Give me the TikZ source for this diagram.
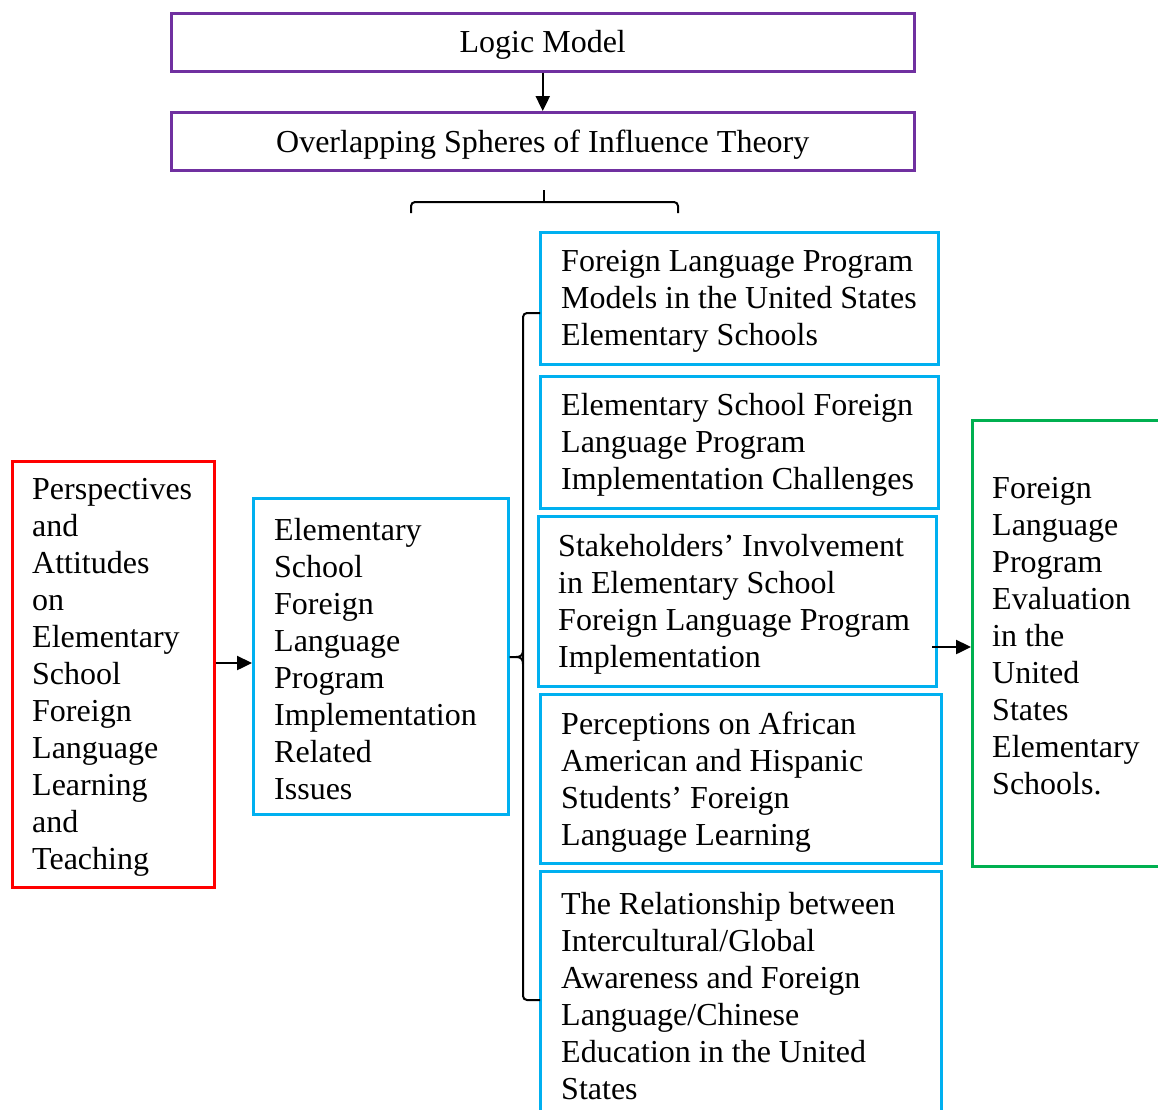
\documentclass[tikz,border=0pt]{standalone}
\usepackage{fontspec}
\setmainfont{Liberation Serif}
\usetikzlibrary{arrows.meta}
\definecolor{lmpurple}{HTML}{7030A0}
\definecolor{lmred}{HTML}{FF0000}
\definecolor{lmcyan}{HTML}{00B0F0}
\definecolor{lmgreen}{HTML}{00B050}
\begin{document}
\begin{tikzpicture}[x=1pt,y=-1pt,
  boxbase/.style={draw, line width=2.5pt, anchor=north west, inner sep=0pt},
  pbox/.style={boxbase, draw=lmpurple, font=\fontsize{32}{37}\selectfont, align=center},
  rbox/.style={boxbase, draw=lmred},
  cbox/.style={boxbase, draw=lmcyan},
  gbox/.style={boxbase, draw=lmgreen},
  txt/.style={anchor=west, inner sep=0pt, align=left, yshift=-3pt, font=\fontsize{32}{37}\selectfont},
  arr/.style={line width=2.4pt, -{Triangle[length=15pt,width=14pt]}},
  brace/.style={line width=2pt, rounded corners=4pt}]
\useasboundingbox (0,0) rectangle (1158,1109);

% top boxes
\node[pbox, minimum width=743pt, minimum height=58pt] (logic) at (170,12) {\raisebox{-3pt}[\height][\depth]{Logic Model}};
\node[pbox, minimum width=743pt, minimum height=58pt] (osi) at (170,111) {\raisebox{-3pt}[\height][\depth]{Overlapping Spheres of Influence Theory}};
\draw[arr] (logic.south) -- (osi.north);

% top brace
\coordinate (tbL) at (411,213);
\coordinate (tbR) at (678,213);
\coordinate (tbT) at (544,190);
\draw[brace] (tbL) -- (411,202) -- (678,202) -- (tbR);
\draw[line width=2pt] (tbT) -- (544,202);

% left red box
\node[rbox, minimum width=202pt, minimum height=426pt] (red) at (11,460) {};
\node[txt] (redt) at ([xshift=21pt]red.west) {Perspectives\\and\\Attitudes\\on\\Elementary\\School\\Foreign\\Language\\Learning\\and\\Teaching};

% middle box
\node[cbox, minimum width=255pt, minimum height=316pt] (mid) at (252,497) {};
\node[txt] (midt) at ([xshift=22pt]mid.west) {Elementary\\School\\Foreign\\Language\\Program\\Implementation\\Related\\Issues};

\draw[arr] (red.east|-0,663) -- (mid.west|-0,663);

% right column boxes
\node[cbox, minimum width=398pt, minimum height=132pt] (b1) at (539,231) {};
\node[txt] (t1) at ([xshift=22pt]b1.west) {Foreign Language Program\\Models in the United States\\Elementary Schools};

\node[cbox, minimum width=398pt, minimum height=132pt] (b2) at (539,375) {};
\node[txt] (t2) at ([xshift=22pt]b2.west) {Elementary School Foreign\\Language Program\\Implementation Challenges};

\node[cbox, minimum width=398pt, minimum height=170pt] (b3) at (537,515) {};
\node[txt] (t3) at ([xshift=21pt]b3.west) {Stakeholders’ Involvement\\in Elementary School\\Foreign Language Program\\Implementation};

\node[cbox, minimum width=401pt, minimum height=169pt] (b4) at (539,693) {};
\node[txt] (t4) at ([xshift=22pt]b4.west) {Perceptions on African\\American and Hispanic\\Students’ Foreign\\Language Learning};

\node[cbox, minimum width=401pt, minimum height=244pt] (b5) at (539,870) {};
\node[txt] (t5) at ([xshift=22pt]b5.west) {The Relationship between\\Intercultural/Global\\Awareness and Foreign\\Language/Chinese\\Education in the United\\States};

% left brace grouping right column
\coordinate (lbT) at (540,313);
\coordinate (lbB) at (540,1000);
\coordinate (lbM) at (mid.east|-0,657);
\draw[brace] (lbT) -- (523,313) -- (523,1000) -- (lbB);
\draw[line width=2pt] (lbM) -- (516,657) .. controls (521,657) and (523,655) .. (523,650);
\draw[line width=2pt] (516,657) .. controls (521,657) and (523,659) .. (523,664);

% green box
\node[gbox, minimum width=200pt, minimum height=446pt] (green) at (971,419) {};
\node[txt] (gt) at (992,633) {Foreign\\Language\\Program\\Evaluation\\in the\\United\\States\\Elementary\\Schools.};

\draw[arr] (932,647) -- (green.west|-0,647);
\end{tikzpicture}
\end{document}
